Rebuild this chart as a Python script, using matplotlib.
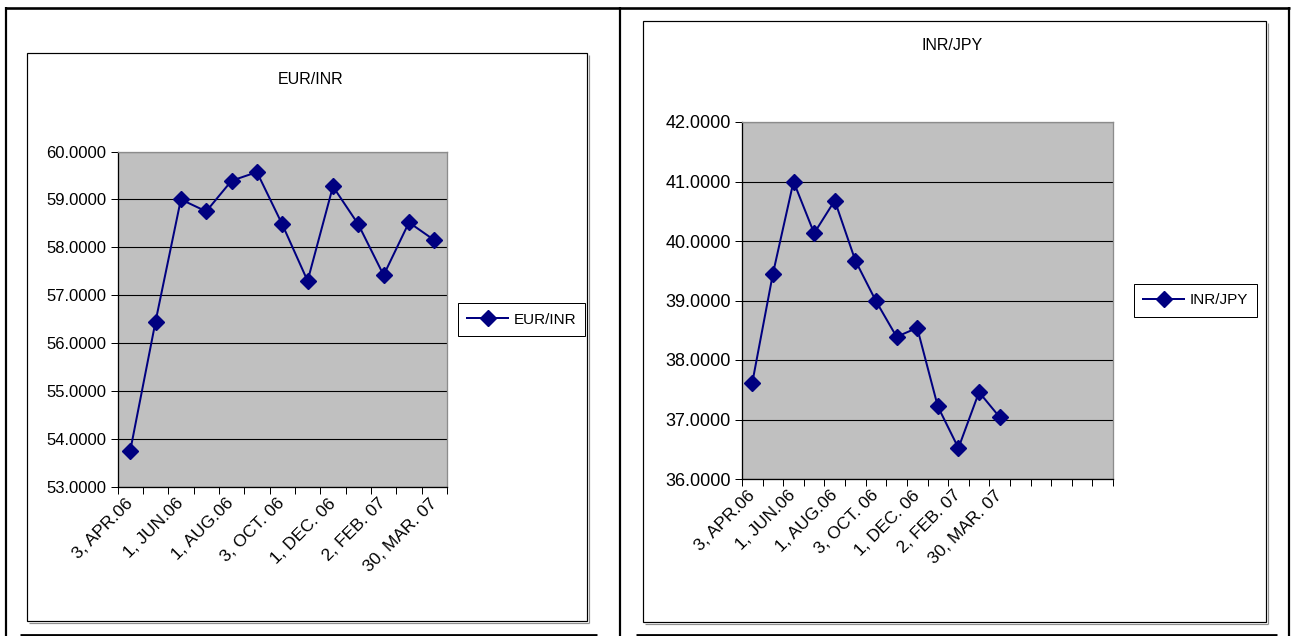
import matplotlib
matplotlib.use('Agg')
import matplotlib.pyplot as plt
from matplotlib.lines import Line2D
from matplotlib.patches import Rectangle
from matplotlib.ticker import FormatStrFormatter, MultipleLocator

# Exchange rates, Apr 2006 - Mar 2007
date_labels = ["3, APR.06", "1, JUN.06", "1, AUG.06", "3, OCT. 06",
               "1, DEC. 06", "2, FEB. 07", "30, MAR. 07"]
eur_inr = [53.75, 56.45, 59.00, 58.75, 59.39, 59.57, 58.48,
           57.30, 59.27, 58.48, 57.42, 58.52, 58.15]
inr_jpy = [37.62, 39.45, 41.00, 40.13, 40.68, 39.67, 38.99,
           38.39, 38.54, 37.22, 36.52, 37.46, 37.04]
eur_ylim = (53, 60)
jpy_ylim = (36, 42)
n_cat_eur = 13
n_cat_jpy = 18

W, H = 1295, 636
fig = plt.figure(figsize=(W / 100, H / 100), dpi=100)
fig.patch.set_facecolor('white')

PX = 0.72  # one pixel in points
SANS = ['Liberation Sans', 'DejaVu Sans']


def fx(x):
    return x / W


def fy(y):
    return 1 - y / H


def hline(x0, x1, y, lw, color='black'):
    fig.add_artist(Line2D([fx(x0), fx(x1)], [fy(y), fy(y)], transform=fig.transFigure,
                          color=color, lw=lw, solid_capstyle='butt'))


def vline(x, y0, y1, lw, color='black'):
    fig.add_artist(Line2D([fx(x), fx(x)], [fy(y0), fy(y1)], transform=fig.transFigure,
                          color=color, lw=lw, solid_capstyle='butt'))


def chart_box(x0, y0, x1, y1):
    # thin black border with a grey drop shadow
    hline(x0 + 2, x1 + 2, y1 + 1.5, 1.2 * PX, '#909090')
    vline(x1 + 1.5, y0 + 2, y1 + 2, 1.2 * PX, '#909090')
    fig.add_artist(Rectangle((fx(x0), fy(y1)), fx(x1) - fx(x0), fy(y0) - fy(y1),
                             transform=fig.transFigure, fill=False,
                             edgecolor='black', lw=1.2 * PX))


# table frame
hline(5, 1290, 8, 2.6 * PX)
vline(6, 7, 636, 2.2 * PX)
vline(620, 7, 636, 2.2 * PX)
vline(1289, 7, 636, 2.2 * PX)
hline(20, 597, 634.5, 2.8 * PX)
hline(636, 1277, 634.5, 2.8 * PX)

chart_box(27, 53, 587, 621)
chart_box(643, 21, 1266, 622)


def draw_chart(rect_px, values, n_cat, ylim, name, ysize, title_xy, legend_xy):
    x0, y0, x1, y1 = rect_px
    ax = fig.add_axes([fx(x0), fy(y1), fx(x1) - fx(x0), fy(y0) - fy(y1)])
    ax.set_facecolor('#C0C0C0')
    ax.set_xlim(-0.5, n_cat - 0.5)
    ax.set_ylim(*ylim)
    ax.yaxis.set_major_locator(MultipleLocator(1))
    ax.yaxis.set_major_formatter(FormatStrFormatter('%.4f'))
    ax.grid(axis='y', color='black', lw=1.1 * PX)
    ax.set_axisbelow(True)

    ax.plot(range(len(values)), values, color='#000080', lw=2 * PX,
            marker='D', markersize=8.5, markeredgecolor='#000080',
            markerfacecolor='#000080', label=name, clip_on=False, zorder=3)

    # category boundary ticks, labels on every other category
    ax.set_xticks([i - 0.5 for i in range(n_cat + 1)], minor=True)
    ax.set_xticks(range(0, 2 * len(date_labels), 2))
    ax.set_xticklabels(date_labels, rotation=45, ha='right', va='center',
                       rotation_mode='anchor', fontsize=12.5, family=SANS)
    ax.tick_params(axis='x', which='major', length=0, pad=10)
    ax.tick_params(axis='x', which='minor', length=5, width=1 * PX, direction='out')
    ax.tick_params(axis='y', length=5, width=1 * PX, direction='out', pad=3,
                   labelsize=ysize)
    for lab in ax.get_yticklabels():
        lab.set_family(SANS)

    for side in ('left', 'bottom'):
        ax.spines[side].set_color('black')
        ax.spines[side].set_linewidth(1.3 * PX)
    for side in ('top', 'right'):
        ax.spines[side].set_color('#8C8C8C')
        ax.spines[side].set_linewidth(1.3 * PX)

    fig.text(fx(title_xy[0]), fy(title_xy[1]), name, ha='center', va='center',
             fontsize=11.5, family=SANS)

    leg = ax.legend(loc='center', bbox_to_anchor=(fx(legend_xy[0]), fy(legend_xy[1])),
                    bbox_transform=fig.transFigure, fancybox=False, shadow=False,
                    edgecolor='black', framealpha=1, handlelength=2.7,
                    handletextpad=0.35, borderpad=0.6, borderaxespad=0,
                    prop={'size': 11, 'family': SANS})
    leg.get_frame().set_linewidth(1 * PX)
    return ax


draw_chart((117.5, 151.5, 447, 487), eur_inr, n_cat_eur, eur_ylim, 'EUR/INR', 12,
           (311, 80), (521.5, 319.5))
draw_chart((742, 122, 1113, 479), inr_jpy, n_cat_jpy, jpy_ylim, 'INR/JPY', 13,
           (952, 46), (1195.5, 300.5))

fig.savefig('out.png', dpi=100)
